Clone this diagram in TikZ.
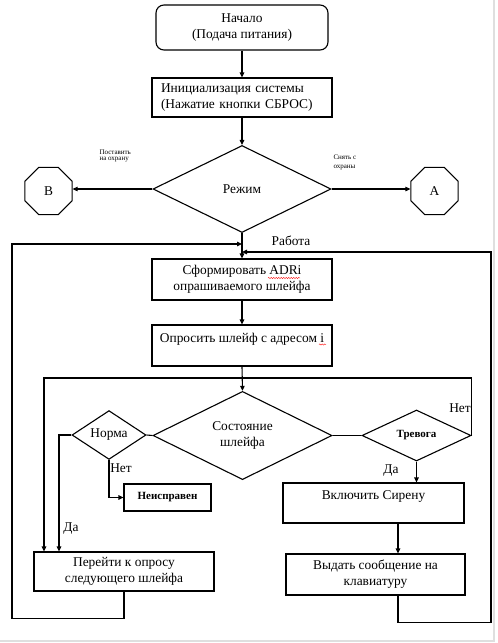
\documentclass[tikz,border=0pt]{standalone}
\usepackage{fontspec}
\setmainfont{Liberation Serif}
\usetikzlibrary{shapes.geometric,arrows.meta,decorations.pathmorphing}
\newcommand{\fz}{\fontsize{13.4}{16}\selectfont}
\newcommand{\fzb}{\fontsize{11}{13}\selectfont\bfseries}
\newcommand{\fzs}{\fontsize{7}{8}\selectfont}
\begin{document}
\begin{tikzpicture}[x=1pt,y=-1pt,line width=1.1pt,
  box/.style={draw, rectangle, inner sep=0pt, align=center, font=\fz},
  startbox/.style={box, rounded corners=8pt},
  dia/.style={draw, diamond, inner sep=0pt, align=center, font=\fz},
  oct/.style={draw, regular polygon, regular polygon sides=8, minimum size=51pt, inner sep=0pt, font=\fz},
  arr/.style={-{Triangle[length=5pt,width=4.5pt]}},
  lab/.style={inner sep=0pt, font=\fz},
  slab/.style={inner sep=0pt, font=\fzs, anchor=west},
  wavy/.style={red, line width=0.4pt, decorate, decoration={snake, amplitude=0.6pt, segment length=2.5pt}}]
\useasboundingbox (0,0) rectangle (498,643);
\draw[gray!25, line width=1.5pt] (494,0) -- (494,641) -- (0,641);

% nodes
\node[startbox, minimum width=172pt, minimum height=45pt] (start) at (242,27.5) {Начало\\(Подача питания)};
\node[box, minimum width=180pt, minimum height=39pt, text width=162pt, inner xsep=9pt, align=left] (init) at (242,97.5) {Инициализация системы\\(Нажатие кнопки СБРОС)};
\node[dia, minimum width=178pt, minimum height=87pt] (mode) at (242,189) {Режим};
\node[oct] (B) at (48.5,191) {В};
\node[oct] (A) at (434.5,191) {А};
\node[box, minimum width=180pt, minimum height=41pt] (form) at (242,279.5) {Сформировать ADRi\\опрашиваемого шлейфа};
\node[box, minimum width=180pt, minimum height=41pt] (opros) at (242,345.5) {Опросить шлейф с адресом i\\~};
\node[dia, minimum width=179pt, minimum height=87pt] (sost) at (242.5,435.5) {Состояние\\шлейфа};
\node[dia, minimum width=74pt, minimum height=40pt] (norma) at (109,435) {Норма};
\node[dia, minimum width=109pt, minimum height=51pt, font=\fzb] (trev) at (416.5,435.5) {Тревога};
\node[box, minimum width=87pt, minimum height=27pt, font=\fzb] (neispr) at (167.5,497.5) {Неисправен};
\node[box, minimum width=181pt, minimum height=40pt] (vkl) at (373.5,503) {Включить Сирену\\~};
\node[box, minimum width=179pt, minimum height=41pt] (vydat) at (375.5,574.5) {Выдать сообщение на\\клавиатуру};
\node[box, minimum width=180pt, minimum height=39pt] (perehod) at (124,571.5) {Перейти к опросу\\следующего шлейфа};

% spell-check marks
\draw[wavy] (268,278) -- (300,278);
\draw[wavy] (319,344.5) -- (326,344.5);

% labels
\node[slab] (l1) at (99,152) {Поставить};
\node[slab] (l2) at (99,160) {на охрану};
\node[slab] (l3) at (333,157) {Снять с};
\node[slab] (l4) at (333,168) {охраны};
\node[lab] (lrab) at (291,241) {Работа};
\node[lab] (lda1) at (71,529) {Да};
\node[lab] (lnet1) at (121,468) {Нет};
\node[lab] (lnet2) at (460,408) {Нет};
\node[lab] (lda2) at (391,471) {Да};

% coordinates
\coordinate (jl) at (242,244);
\coordinate (jr) at (242,252);
\coordinate (tl) at (44,378);
\coordinate (nd) at (59,435);
\coordinate (cv) at (398,0);

% connectors
\draw[arr] (start) -- (init);
\draw[arr] (init) -- (mode);
\draw[arr] (mode.west) -- (mode.west -| B.east);
\draw[arr] (mode.east) -- (mode.east -| A.west);
\draw[arr] (mode.south) -- (form.north);
\draw[arr] (form) -- (opros);
\draw[arr] (opros.south) -- (sost.north);
\draw[arr] (perehod.south) -- ++(0,27) -| (12,244) -- (jl);
\draw[arr] (vydat.south -| cv) -- ++(0,27) -| (491,252) -- (jr);
\draw (norma.east) -- (sost.west);
\draw (sost.east) -- (trev.west);
\draw[arr] (trev.east) |- (tl) -- (tl |- perehod.north);
\draw[arr] (norma.west) -- (nd) -- (nd |- perehod.north);
\draw[arr] (norma.south) |- (neispr.west);
\draw[arr] (trev.south) -- (trev.south |- vkl.north);
\draw[arr] (vkl.south -| cv) -- (vydat.north -| cv);
\end{tikzpicture}
\end{document}
